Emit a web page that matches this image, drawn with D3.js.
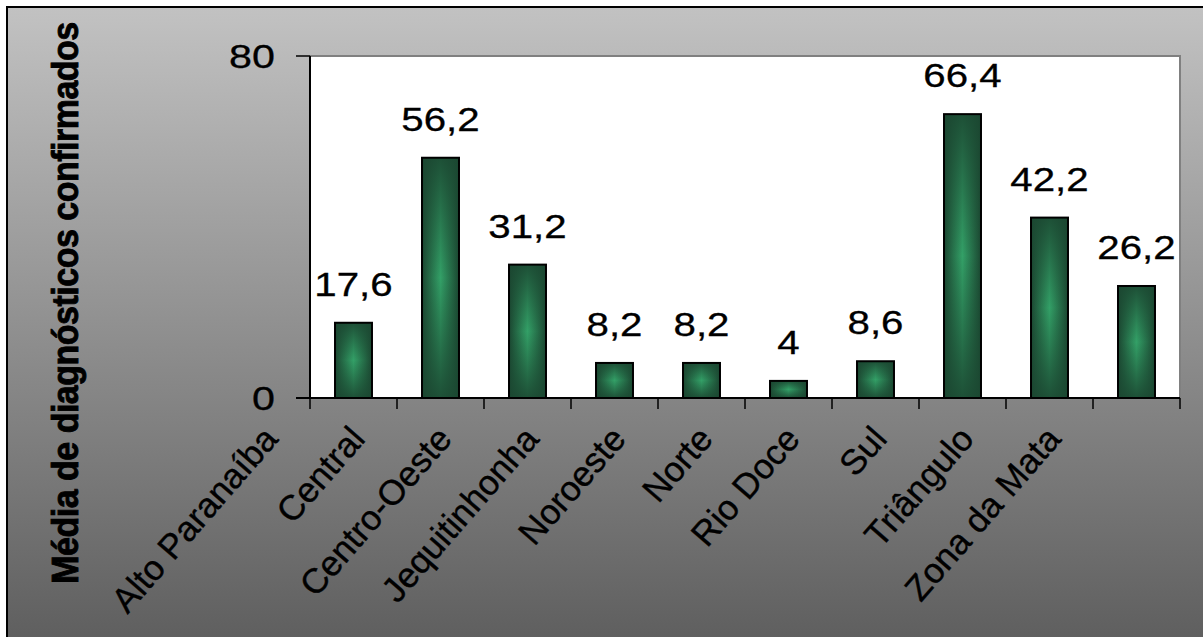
<!DOCTYPE html>
<html>
<head>
<meta charset="utf-8">
<script src="https://cdn.jsdelivr.net/npm/d3@7"></script>
<style>
  body { margin: 0; background: #fff; }
  svg { display: block; font-family: "Liberation Sans", Arial, sans-serif; }
</style>
</head>
<body>
<div id="chart"></div>
<script>
// regiões e médias
var categories = ["Alto Paranaíba", "Central", "Centro-Oeste", "Jequitinhonha", "Noroeste",
                  "Norte", "Rio Doce", "Sul", "Triângulo", "Zona da Mata"];
var values = [17.6, 56.2, 31.2, 8.2, 8.2, 4, 8.6, 66.4, 42.2, 26.2];
var yTicks = [0, 80];
var yTitle = "Média de diagnósticos confirmados";

var W = 1203, H = 637;
var plot = {left: 310, right: 1180, top: 56, bottom: 398};

var svg = d3.select("#chart").append("svg")
    .attr("width", W)
    .attr("height", H);

var defs = svg.append("defs");

// fundo cinza
var bg = defs.append("linearGradient").attr("id", "bgGrad")
    .attr("x1", 0).attr("y1", 0).attr("x2", 0).attr("y2", 1);
bg.append("stop").attr("offset", "0%").attr("stop-color", "#c2c2c2");
bg.append("stop").attr("offset", "100%").attr("stop-color", "#5b5b5b");

// barras: escuro nas bordas, claro no centro
var gh = defs.append("linearGradient").attr("id", "barH")
    .attr("x1", 0).attr("y1", 0).attr("x2", 1).attr("y2", 0);
gh.append("stop").attr("offset", "0%").attr("stop-color", "#1b4731");
gh.append("stop").attr("offset", "50%").attr("stop-color", "#33a067");
gh.append("stop").attr("offset", "100%").attr("stop-color", "#1b4731");

var gv = defs.append("linearGradient").attr("id", "barV")
    .attr("x1", 0).attr("y1", 0).attr("x2", 0).attr("y2", 1);
gv.append("stop").attr("offset", "0%").attr("stop-color", "#1b4731").attr("stop-opacity", 0.9);
gv.append("stop").attr("offset", "50%").attr("stop-color", "#1b4731").attr("stop-opacity", 0);
gv.append("stop").attr("offset", "100%").attr("stop-color", "#1b4731").attr("stop-opacity", 0.9);

svg.append("rect")
    .attr("x", 7).attr("y", 7)
    .attr("width", W + 20).attr("height", H + 20)
    .attr("fill", "url(#bgGrad)")
    .attr("stroke", "#000")
    .attr("stroke-width", 2);

// escalas
var x = d3.scaleBand()
    .domain(categories)
    .range([plot.left, plot.right])
    .paddingInner(0.575)
    .paddingOuter(0.2875);

var y = d3.scaleLinear()
    .domain([0, 80])
    .range([plot.bottom, plot.top]);

// área do gráfico
svg.append("rect")
    .attr("x", plot.left).attr("y", plot.top)
    .attr("width", plot.right - plot.left)
    .attr("height", plot.bottom - plot.top)
    .attr("fill", "#fff");

svg.append("path")
    .attr("d", "M" + plot.left + "," + plot.top + "H" + plot.right + "V" + plot.bottom)
    .attr("fill", "none")
    .attr("stroke", "#808080")
    .attr("stroke-width", 2);

// barras
var bars = svg.append("g").selectAll("g")
    .data(values)
    .enter().append("g");

bars.append("rect")
    .attr("x", function(d, i) { return x(categories[i]); })
    .attr("y", function(d) { return y(d); })
    .attr("width", x.bandwidth())
    .attr("height", function(d) { return y(0) - y(d); })
    .attr("fill", "url(#barH)");

bars.append("rect")
    .attr("x", function(d, i) { return x(categories[i]); })
    .attr("y", function(d) { return y(d); })
    .attr("width", x.bandwidth())
    .attr("height", function(d) { return y(0) - y(d); })
    .attr("fill", "url(#barV)")
    .attr("stroke", "#000")
    .attr("stroke-width", 2);

// rótulos de valores
var fmt = function(v) { return String(v).replace(".", ","); };
bars.append("text")
    .attr("transform", function(d, i) {
        return "translate(" + (x(categories[i]) + x.bandwidth() / 2) + "," + (y(d) - 27) + ") scale(1.22,1)";
    })
    .attr("text-anchor", "middle")
    .attr("font-size", "33px")
    .attr("fill", "#000")
    .attr("stroke", "#000")
    .attr("stroke-width", 0.3)
    .text(function(d) { return fmt(d); });

// eixo y
var yAxis = svg.append("g");
yAxis.append("line")
    .attr("x1", plot.left).attr("x2", plot.left)
    .attr("y1", plot.top).attr("y2", plot.bottom)
    .attr("stroke", "#000").attr("stroke-width", 2);
yAxis.selectAll(".ytick").data(yTicks).enter().append("line")
    .attr("x1", plot.left - 14).attr("x2", plot.left)
    .attr("y1", function(d) { return y(d); })
    .attr("y2", function(d) { return y(d); })
    .attr("stroke", "#000").attr("stroke-width", 1.5);
yAxis.selectAll(".ylab").data(yTicks).enter().append("text")
    .attr("transform", function(d) { return "translate(275," + (y(d) + 12) + ") scale(1.25,1)"; })
    .attr("text-anchor", "end")
    .attr("font-size", "33px")
    .attr("fill", "#000")
    .attr("stroke", "#000")
    .attr("stroke-width", 0.3)
    .text(function(d) { return d; });

// eixo x
var xAxis = svg.append("g");
xAxis.append("line")
    .attr("x1", plot.left - 14).attr("x2", plot.right)
    .attr("y1", plot.bottom).attr("y2", plot.bottom)
    .attr("stroke", "#000").attr("stroke-width", 2);
xAxis.selectAll(".xtick").data(d3.range(categories.length + 1)).enter().append("line")
    .attr("x1", function(i) { return plot.left + i * x.step(); })
    .attr("x2", function(i) { return plot.left + i * x.step(); })
    .attr("y1", plot.bottom).attr("y2", plot.bottom + 11)
    .attr("stroke", "#000").attr("stroke-width", 1.5);
xAxis.selectAll(".xlab").data(categories).enter().append("text")
    .attr("transform", function(d) {
        return "translate(" + (x(d) + x.bandwidth() / 2 - 74) + "," + (plot.bottom + 42) + ") rotate(-49)";
    })
    .attr("text-anchor", "end")
    .attr("font-size", "35px")
    .attr("fill", "#000")
    .attr("stroke", "#000")
    .attr("stroke-width", 0.4)
    .text(function(d) { return d; });

// título do eixo y
svg.append("text")
    .attr("transform", "translate(78,303) rotate(-90) scale(1,1.1)")
    .attr("text-anchor", "middle")
    .attr("font-size", "34px")
    .attr("font-weight", "bold")
    .attr("letter-spacing", "-0.5px")
    .attr("fill", "#000")
    .attr("stroke", "#000")
    .attr("stroke-width", 0.8)
    .text(yTitle);
</script>
</body>
</html>
